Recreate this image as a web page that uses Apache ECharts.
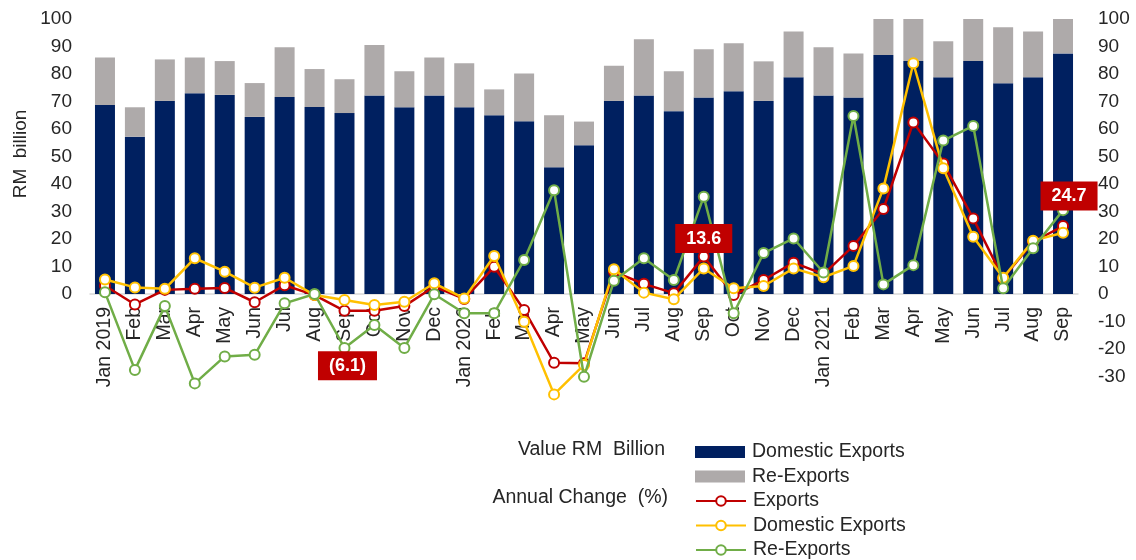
<!DOCTYPE html>
<html>
<head>
<meta charset="utf-8">
<script src="https://cdn.jsdelivr.net/npm/echarts@6/dist/echarts.min.js"></script>
<style>
  html, body { margin: 0; padding: 0; background: #fff; }
  #chart { width: 1136px; height: 560px; }
</style>
</head>
<body>
<div id="chart"></div>
<script>
var months = ['Jan 2019', 'Feb', 'Mar', 'Apr', 'May', 'Jun', 'Jul', 'Aug', 'Sep', 'Oct', 'Nov', 'Dec',
  'Jan 2020', 'Feb', 'Mar', 'Apr', 'May', 'Jun', 'Jul', 'Aug', 'Sep', 'Oct', 'Nov', 'Dec',
  'Jan 2021', 'Feb', 'Mar', 'Apr', 'May', 'Jun', 'Jul', 'Aug', 'Sep'];

// value, RM billion
var domesticValue = [68.7, 57.2, 70.2, 73.0, 72.4, 64.4, 71.6, 68.0, 65.8, 72.2, 67.9, 72.2,
  67.9, 65.0, 62.8, 46.1, 54.1, 70.2, 72.2, 66.5, 71.5, 73.7, 70.2, 78.8,
  72.2, 71.5, 86.9, 84.7, 78.8, 84.7, 76.6, 78.8, 87.5];
var reExportValue = [17.3, 10.7, 15.1, 13.0, 12.3, 12.3, 18.1, 13.8, 12.3, 18.3, 13.1, 13.8,
  16.0, 9.4, 17.4, 18.9, 8.6, 12.8, 20.4, 14.5, 17.5, 17.5, 14.4, 16.7,
  17.5, 16.0, 24.5, 18.0, 13.1, 19.3, 20.4, 16.7, 25.0];

// annual change, %
var exportsChange = [3.0, -3.8, 1.5, 1.9, 2.2, -3.0, 3.2, -0.4, -6.1, -6.1, -4.4, 2.7,
  -1.8, 9.9, -5.8, -25.0, -25.2, 8.1, 3.7, 0.3, 13.6, -0.4, 5.1, 11.4,
  7.2, 17.5, 30.9, 62.4, 47.5, 27.5, 5.7, 19.0, 24.7];
var domesticChange = [5.3, 2.4, 1.9, 13.0, 8.1, 2.3, 5.9, -0.4, -2.2, -4.0, -2.8, 3.9,
  -1.6, 13.8, -10.1, -36.5, -25.8, 9.0, 0.5, -1.9, 9.3, 2.1, 2.9, 9.3,
  6.1, 10.2, 38.4, 83.9, 45.7, 20.8, 5.9, 19.4, 22.3];
var reExportChange = [0.6, -27.6, -4.4, -32.5, -22.7, -22.1, -3.4, 0.0, -19.6, -11.3, -19.6, -0.1,
  -7.0, -7.0, 12.4, 37.7, -30.1, 4.8, 13.0, 5.1, 35.4, -7.0, 14.9, 20.2,
  7.8, 64.7, 3.5, 10.5, 55.8, 61.1, 2.1, 16.6, 30.5];

// which export points get a callout, and where the box sits
var calloutIndex = [8, 20, 32];
var calloutOffset = [[3, 55], [0, -18], [6, -30]];

// legend rows, top to bottom
var legendNames = ['Domestic Exports', 'Re-Exports', 'Exports', 'Domestic Exports ', 'Re-Exports '];

var font = 'Liberation Sans, Arial, sans-serif';

var chart = echarts.init(document.getElementById('chart'));

// callouts ride on an invisible copy of the exports line so they sit above every line
var calloutData = exportsChange.map(function (v, i) {
  var k = calloutIndex.indexOf(i);
  if (k < 0) return v;
  return {
    value: v,
    label: {
      show: true,
      position: 'inside',
      offset: calloutOffset[k],
      formatter: function (p) {
        return p.value < 0 ? '(' + Math.abs(p.value).toFixed(1) + ')' : p.value.toFixed(1);
      },
      backgroundColor: '#c00000',
      color: '#fff',
      fontFamily: font,
      fontWeight: 'bold',
      fontSize: 18,
      padding: [6, 11, 5, 11]
    }
  };
});

function lineSeries(name, color, data, z) {
  return {
    name: name,
    type: 'line',
    yAxisIndex: 1,
    data: data,
    z: z,
    symbol: 'circle',
    symbolSize: 10,
    lineStyle: { color: color, width: 2.5 },
    itemStyle: { color: '#fff', borderColor: color, borderWidth: 2 },
    emphasis: { disabled: true }
  };
}

// one legend per row so the rows can be placed like the original
var legends = legendNames.map(function (name, i) {
  return {
    left: 695,
    top: 442 + i * 24.5,
    padding: 0,
    itemWidth: 50,
    itemHeight: 12,
    itemGap: 0,
    textStyle: { fontSize: 19.5, fontFamily: font, color: '#262626', padding: [0, 0, 0, 2] },
    data: [i < 2 ? { name: name, icon: 'rect' } : name]
  };
});

var option = {
  animation: false,
  textStyle: { fontFamily: font },
  grid: { left: 90, right: 58, top: 19, bottom: 156 },
  graphic: [
    { type: 'text', x: 21, y: 154, rotation: Math.PI / 2,
      style: { text: 'RM  billion', fontSize: 19, fontFamily: font, fill: '#262626', align: 'center', verticalAlign: 'middle' } },
    { type: 'text', x: 665, y: 450,
      style: { text: 'Value RM  Billion', fontSize: 19.5, fontFamily: font, fill: '#262626', align: 'right', verticalAlign: 'middle' } },
    { type: 'text', x: 668, y: 498,
      style: { text: 'Annual Change  (%)', fontSize: 19.5, fontFamily: font, fill: '#262626', align: 'right', verticalAlign: 'middle' } }
  ],
  legend: legends,
  xAxis: {
    type: 'category',
    data: months,
    offset: -110,
    axisLine: { onZero: false, lineStyle: { color: '#d9d9d9', width: 1.5 } },
    axisTick: { show: false },
    axisLabel: { rotate: 90, interval: 0, margin: 13, fontSize: 19.5, color: '#262626' }
  },
  yAxis: [
    {
      type: 'value', min: -40, max: 100, interval: 10,
      splitLine: { show: false }, axisLine: { show: false }, axisTick: { show: false },
      axisLabel: { fontSize: 19, color: '#262626', margin: 18,
        formatter: function (v) { return v < 0 ? '' : v; } }
    },
    {
      type: 'value', min: -40, max: 100, interval: 10, position: 'right',
      splitLine: { show: false }, axisLine: { show: false }, axisTick: { show: false },
      axisLabel: { fontSize: 19, color: '#262626', margin: 20,
        formatter: function (v) { return v === -40 ? '' : v; } }
    }
  ],
  series: [
    { name: 'Domestic Exports', type: 'bar', stack: 'value', barWidth: 20, data: domesticValue,
      itemStyle: { color: '#002060' }, emphasis: { disabled: true } },
    { name: 'Re-Exports', type: 'bar', stack: 'value', barWidth: 20, data: reExportValue,
      itemStyle: { color: '#aeaaaa' }, emphasis: { disabled: true } },
    lineSeries('Exports', '#c00000', exportsChange, 3),
    lineSeries('Domestic Exports ', '#ffc000', domesticChange, 4),
    lineSeries('Re-Exports ', '#70ad47', reExportChange, 5),
    {
      name: 'callouts', type: 'line', yAxisIndex: 1, data: calloutData, z: 10, silent: true,
      symbol: 'circle', symbolSize: 1,
      lineStyle: { width: 0, opacity: 0 },
      itemStyle: { color: 'rgba(0,0,0,0)' },
      emphasis: { disabled: true }
    }
  ]
};

chart.setOption(option);
</script>
</body>
</html>
